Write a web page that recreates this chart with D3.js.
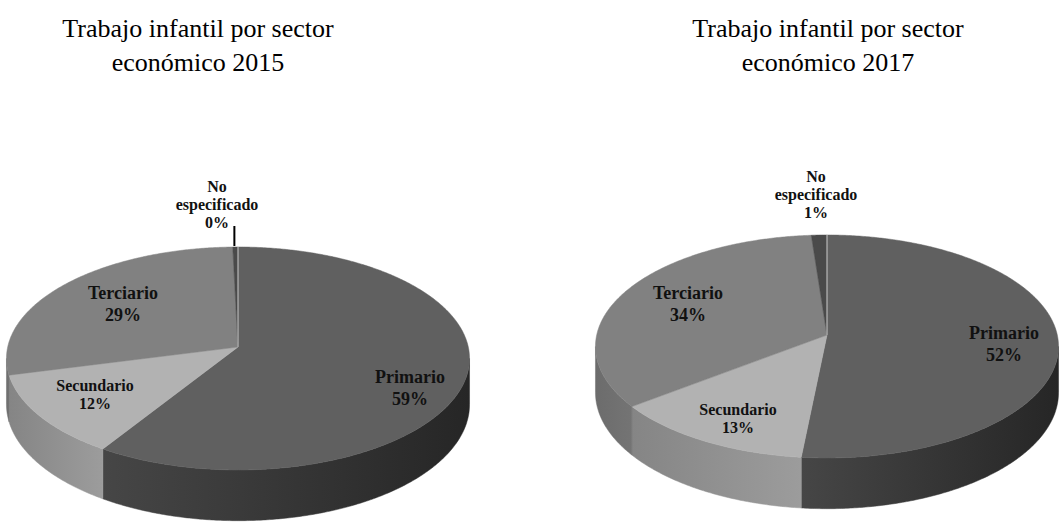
<!DOCTYPE html>
<html>
<head>
<meta charset="utf-8">
<script src="https://cdn.jsdelivr.net/npm/d3@7"></script>
<style>
  html, body { margin: 0; padding: 0; background: #ffffff; }
  svg { display: block; }
</style>
</head>
<body>
<svg id="chart" width="1062" height="523"></svg>
<script>
// ---------- DATA ----------
const categories = ["Primario", "Secundario", "Terciario", "No especificado"];
const categoryLines = [["Primario"], ["Secundario"], ["Terciario"], ["No", "especificado"]];
const values2015 = [59.0, 12.0, 28.6, 0.4];
const values2017 = [51.6, 13.0, 34.2, 1.2];
const titles2015 = ["Trabajo infantil por sector", "económico 2015"];
const titles2017 = ["Trabajo infantil por sector", "económico 2017"];

// ---------- STYLE / LAYOUT ----------
const topColors = ["#606060", "#b2b2b2", "#818181", "#4a4a4a"];
const sideColorsStart = ["#464646", "#858585", "#6c6c6c", "#3a3a3a"];
const sideColorsEnd = ["#262626", "#9c9c9c", "#747474", "#3a3a3a"];
const nameFontSizes = [18, 16, 18, 16];

const charts = [
  {
    values: values2015, titles: titles2015,
    titleX: 198, cx: 238, cy: 347,
    // label offsets relative to pie centre: [dx, dy of first line]
    labelOffsets: [[172, 30], [-143, 38], [-115, -54], [-21, -161]],
    leader: true
  },
  {
    values: values2017, titles: titles2017,
    titleX: 828, cx: 827, cy: 335,
    labelOffsets: [[177, -2], [-89, 74], [-139, -42], [-11, -159]],
    leader: false
  }
];

const R = 230.3;     // horizontal radius
const K = 110.3;     // vertical radius (tilt)
const P = 0.103;     // perspective factor
const D = 45.5;      // thickness

const svg = d3.select("#chart");
const defs = svg.append("defs");
const line = d3.line();

function proj(c, a, r, z) {
  const u = r * Math.sin(a), v = -r * Math.cos(a);
  const s = 1 / (1 - P * v);
  return [c.cx + R * u * s, c.cy + K * v * s + D * s * z];
}
function arcPoints(c, a0, a1, z) {
  const n = Math.max(2, Math.ceil((a1 - a0) / (Math.PI / 360)));
  return d3.range(n + 1).map(i => proj(c, a0 + (a1 - a0) * i / n, 1, z));
}

const visMin = Math.acos(-P);
const visMax = 2 * Math.PI - Math.acos(-P);

charts.forEach((c, ci) => {
  const g = svg.append("g");
  const arcs = d3.pie().sort(null).value(d => d)(c.values);

  // sides (outer walls visible to viewer)
  arcs.forEach((d, i) => {
    const a0 = Math.max(d.startAngle, visMin), a1 = Math.min(d.endAngle, visMax);
    if (a1 <= a0) return;
    const topArc = arcPoints(c, a0, a1, 0);
    const botArc = arcPoints(c, a0, a1, 1).reverse();
    const xs = topArc.concat(botArc).map(p => p[0]);
    const gid = `side-${ci}-${i}`;
    const grad = defs.append("linearGradient").attr("id", gid)
      .attr("gradientUnits", "userSpaceOnUse")
      .attr("x1", d3.min(xs)).attr("x2", d3.max(xs)).attr("y1", 0).attr("y2", 0);
    grad.append("stop").attr("offset", 0).attr("stop-color", sideColorsStart[i]);
    grad.append("stop").attr("offset", 1).attr("stop-color", sideColorsEnd[i]);
    g.append("path")
      .attr("d", line(topArc.concat(botArc)) + "Z")
      .attr("fill", `url(#${gid})`)
      .attr("stroke", `url(#${gid})`).attr("stroke-width", 0.5);
  });

  // top faces
  arcs.forEach((d, i) => {
    const pts = [proj(c, 0, 0, 0)].concat(arcPoints(c, d.startAngle, d.endAngle, 0));
    g.append("path")
      .attr("d", line(pts) + "Z")
      .attr("fill", topColors[i])
      .attr("stroke", topColors[i]).attr("stroke-width", 0.5);
  });

  // light edge at start boundary
  const cpt = proj(c, 0, 0, 0), tpt = proj(c, 0, 1, 0);
  g.append("line")
    .attr("x1", cpt[0]).attr("y1", cpt[1]).attr("x2", tpt[0]).attr("y2", tpt[1])
    .attr("stroke", "#cfcfcf").attr("stroke-width", 1);

  // titles
  c.titles.forEach((t, k) => {
    svg.append("text")
      .attr("x", c.titleX).attr("y", 37 + k * 34)
      .attr("text-anchor", "middle")
      .attr("font-family", "'Liberation Serif', 'Times New Roman', serif")
      .attr("font-size", 26).attr("fill", "#000")
      .text(t);
  });

  // labels
  arcs.forEach((d, i) => {
    const [dx, dy] = c.labelOffsets[i];
    const lines = categoryLines[i].concat([Math.round(c.values[i]) + "%"]);
    const fs = nameFontSizes[i];
    const lh = fs >= 18 ? 22 : 18;
    const txt = g.append("text")
      .attr("text-anchor", "middle")
      .attr("font-family", "'Liberation Serif', 'Times New Roman', serif")
      .attr("font-weight", "bold")
      .attr("font-size", fs).attr("fill", "#111");
    lines.forEach((l, k) => {
      txt.append("tspan")
        .attr("x", c.cx + dx)
        .attr("y", c.cy + dy + k * lh)
        .attr("dy", "0.35em")
        .text(l);
    });
  });

  if (c.leader) {
    const mid = (arcs[3].startAngle + arcs[3].endAngle) / 2;
    const p = proj(c, mid, 1, 0);
    g.append("line")
      .attr("x1", p[0] - 1).attr("x2", p[0] - 1)
      .attr("y1", p[1] - 1).attr("y2", p[1] - 21)
      .attr("stroke", "#000").attr("stroke-width", 2);
  }
});
</script>
</body>
</html>
